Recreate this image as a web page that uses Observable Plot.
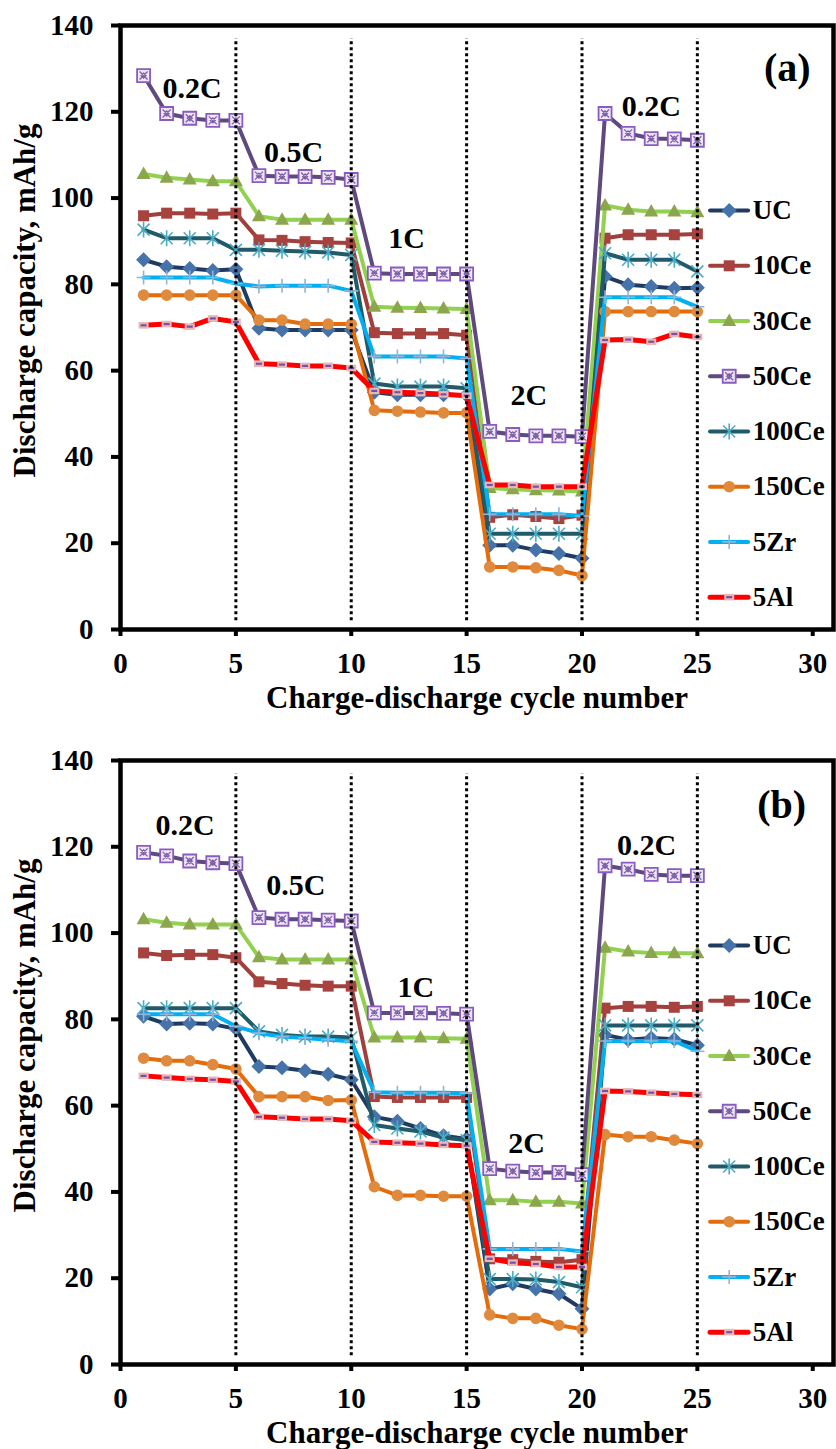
<!DOCTYPE html>
<html><head><meta charset="utf-8">
<script src="https://cdn.jsdelivr.net/npm/d3@7"></script>
<script src="https://cdn.jsdelivr.net/npm/@observablehq/plot@0.6"></script>
<style>
body{margin:0;background:#fff;}
#chart svg{display:block;}
</style></head><body><div id="chart"></div>
<script>
// ---------- data ----------
const cycles = [1,2,3,4,5,6,7,8,9,10,11,12,13,14,15,16,17,18,19,20,21,22,23,24,25];
const seriesNames = ["UC","10Ce","30Ce","50Ce","100Ce","150Ce","5Zr","5Al"];

// panel (a)
const ucA    = [85.7,84.1,83.7,83.2,83.5,69.8,69.4,69.4,69.4,69.4,55.0,54.4,54.4,54.4,54.3,19.5,19.5,18.4,17.6,16.5,81.8,79.9,79.5,79.1,79.2];
const ce10A  = [95.9,96.5,96.5,96.3,96.5,90.3,90.2,89.9,89.7,89.6,68.8,68.6,68.6,68.6,68.2,26.0,26.6,26.2,25.7,26.5,90.7,91.5,91.5,91.5,91.7];
const ce30A  = [105.6,104.7,104.3,103.9,103.9,95.8,95.0,95.0,95.0,95.0,74.8,74.6,74.5,74.4,74.3,32.8,32.5,32.3,32.2,32.0,98.3,97.3,96.9,96.9,96.7];
const ce50A  = [128.4,119.6,118.5,118.0,118.0,105.2,105.0,105.0,104.8,104.3,82.6,82.4,82.4,82.4,82.4,45.9,45.2,44.9,44.9,44.7,119.6,115.0,113.8,113.7,113.4];
const ce100A = [92.7,90.7,90.7,90.7,88.0,88.0,87.8,87.6,87.4,86.8,57.0,56.3,56.3,56.3,55.9,22.2,22.2,22.2,22.2,22.2,87.2,85.7,85.7,85.7,83.0];
const ce150A = [77.5,77.5,77.5,77.5,77.5,71.7,71.7,70.8,70.8,70.8,50.8,50.6,50.4,50.2,50.2,14.5,14.5,14.3,13.7,12.5,73.7,73.7,73.7,73.7,73.7];
const zr5A   = [81.6,81.6,81.6,81.6,80.2,79.5,79.7,79.7,79.7,78.5,63.3,63.3,63.3,63.3,62.8,26.7,26.7,26.7,26.7,26.3,77.0,77.0,77.0,77.0,74.8];
const al5A   = [70.5,70.8,70.2,72.1,71.3,61.6,61.4,61.1,61.1,60.6,55.3,55.0,54.8,54.5,54.2,33.5,33.5,33.1,33.1,33.1,67.1,67.2,66.7,68.5,67.8];

// panel (b)
const ucB    = [80.7,78.9,79.1,78.9,77.8,69.1,68.8,68.1,67.3,66.0,57.4,56.4,54.7,53.0,52.3,17.5,18.7,17.5,16.4,12.9,76.4,75.3,75.7,75.4,74.0];
const ce10B  = [95.4,94.8,95.0,95.0,94.3,88.7,88.3,87.9,87.7,87.7,62.1,61.9,61.9,61.9,61.9,24.5,24.3,23.9,23.7,24.3,82.6,83.0,83.0,82.8,83.0];
const ce30B  = [103.2,102.4,102.0,102.0,102.0,94.4,93.9,93.9,93.9,93.9,75.8,75.8,75.8,75.6,75.5,38.1,38.1,37.7,37.7,37.3,96.6,95.7,95.4,95.3,95.3];
const ce50B  = [118.7,117.9,116.7,116.3,116.1,103.6,103.2,103.2,103.0,102.8,81.5,81.5,81.5,81.4,81.2,45.4,44.8,44.5,44.5,44.0,115.6,114.8,113.6,113.3,113.3];
const ce100B = [82.6,82.6,82.6,82.6,82.6,77.2,76.4,76.0,76.0,75.8,55.5,54.7,54.0,52.6,52.0,19.8,19.8,19.7,19.1,17.9,78.6,78.6,78.6,78.6,78.6];
const ce150B = [71.0,70.4,70.4,69.5,68.5,62.1,62.1,62.1,61.2,61.3,41.2,39.2,39.2,39.0,39.0,11.5,10.7,10.7,9.1,8.2,53.3,52.8,52.8,52.0,51.2];
const zr5B   = [81.2,81.2,81.2,81.2,78.4,76.8,76.0,75.7,75.3,74.9,63.1,63.0,63.0,63.0,62.9,26.8,26.8,26.8,26.8,26.2,75.0,75.0,75.0,75.0,72.6];
const al5B   = [66.9,66.5,66.2,66.0,65.6,57.4,57.2,56.9,56.9,56.5,51.6,51.4,51.2,50.9,50.7,24.5,23.6,23.3,22.6,22.6,63.4,63.3,63.0,62.7,62.5];

// rate annotations
const rateLabels = ["0.2C","0.5C","1C","2C","0.2C"];
const rateXA = [3.1, 7.5, 12.4, 17.7, 23.0];
const rateYA = [125.4, 110.6, 90.6, 54.2, 121.2];
const rateXB = [2.8, 7.6, 12.8, 17.6, 22.8];
const rateYB = [124.9, 111.0, 87.4, 51.2, 120.3];

const boundaries = [5, 10, 15, 20, 25];
const xTicks = [0, 5, 10, 15, 20, 25, 30];
const yTicks = [0, 20, 40, 60, 80, 100, 120, 140];
const xLabel = "Charge-discharge cycle number";
const yLabel = "Discharge capacity, mAh/g";

// ---------- marker symbols ----------
const S = f => ({draw(c){ f(c); }});
const diamond = S(c=>{c.moveTo(0,-7.5);c.lineTo(7.5,0);c.lineTo(0,7.5);c.lineTo(-7.5,0);c.closePath();});
const square  = S(c=>{c.rect(-5.5,-5.5,11,11);});
const triangle= S(c=>{c.moveTo(0,-7.5);c.lineTo(7,5);c.lineTo(-7,5);c.closePath();});
const bigSq   = S(c=>{c.rect(-6.5,-6.5,13,13);});
const xmark   = S(c=>{c.moveTo(-4,-4);c.lineTo(4,4);c.moveTo(4,-4);c.lineTo(-4,4);c.moveTo(0,-2.5);c.lineTo(2.5,0);c.lineTo(0,2.5);c.lineTo(-2.5,0);c.closePath();});
const star    = S(c=>{c.moveTo(-6,-6);c.lineTo(6,6);c.moveTo(6,-6);c.lineTo(-6,6);c.moveTo(0,-8);c.lineTo(0,8);});
const circle  = S(c=>{c.moveTo(5.8,0);c.arc(0,0,5.8,0,2*Math.PI);});
const plus    = S(c=>{c.moveTo(-7,0);c.lineTo(7,0);c.moveTo(0,-7);c.lineTo(0,7);});
const alRect  = S(c=>{c.rect(-5,-3.3,10,6.6);});
const alDash  = S(c=>{c.rect(-3,-1.1,6,2.2);});

const styles = {
  "UC":    {line:"#1F3B62", w:4, marks:[{symbol:diamond, fill:"#4573AA"}]},
  "10Ce":  {line:"#A03F3C", w:4, marks:[{symbol:square, fill:"#A8423F"}]},
  "30Ce":  {line:"#92D050", w:4, marks:[{symbol:triangle, fill:"#8BA64C"}]},
  "50Ce":  {line:"#5F4A7E", w:4, marks:[{symbol:bigSq, fill:"#EEE8F6", stroke:"#8A5CC2", sw:1.8},{symbol:xmark, fill:"none", stroke:"#7E5FA8", sw:1.3}]},
  "100Ce": {line:"#215A68", w:4, marks:[{symbol:star, fill:"none", stroke:"#4BACC6", sw:1.6}]},
  "150Ce": {line:"#E46C0A", w:4, marks:[{symbol:circle, fill:"#E08A3E"}]},
  "5Zr":   {line:"#00B0F0", w:4, marks:[{symbol:plus, fill:"none", stroke:"#95B3D7", sw:1.6}]},
  "5Al":   {line:"#FF0000", w:5, marks:[{symbol:alRect, fill:"#E6B9B8"},{symbol:alDash, fill:"#7B4FA6"}]}
};

function rows(arr){ return cycles.map((c,i)=>({x:c, y:arr[i]})); }

function seriesMarks(data, s){
  const st = styles[s];
  const out = [Plot.line(data, {x:"x", y:"y", stroke:st.line, strokeWidth:st.w, strokeLinejoin:"round", strokeLinecap:"round"})];
  for (const m of st.marks) out.push(Plot.dot(data, {x:"x", y:"y", symbol:m.symbol, r:5, fill:m.fill, stroke:m.stroke || "none", strokeWidth:m.sw || 1}));
  return out;
}

function makePanel(seriesArrays, rateX, rateY, letter, letterX, letterY){
  const marks = [];
  seriesNames.forEach((s,i)=>{ marks.push(...seriesMarks(rows(seriesArrays[i]), s)); });
  // legend (inside plot area, in data coordinates)
  seriesNames.forEach((s,i)=>{
    const ly = 97.1 - i*12.8;
    const pts = [{x:25.55,y:ly},{x:27.2,y:ly}];
    const st = styles[s];
    marks.push(Plot.line(pts, {x:"x", y:"y", stroke:st.line, strokeWidth:st.w, strokeLinecap:"round"}));
    for (const m of st.marks) marks.push(Plot.dot([{x:26.38,y:ly}], {x:"x", y:"y", symbol:m.symbol, r:5, fill:m.fill, stroke:m.stroke || "none", strokeWidth:m.sw || 1}));
    marks.push(Plot.text([s], {x:27.4, y:ly, text:d=>d, textAnchor:"start", fontSize:27, fontWeight:"bold"}));
  });
  marks.push(Plot.ruleX(boundaries, {y1:2, y2:137, stroke:"black", strokeWidth:3, strokeDasharray:"3,3"}));
  marks.push(Plot.text(rateLabels.map((t,i)=>({t, x:rateX[i], y:rateY[i]})), {x:"x", y:"y", text:"t", fontSize:30, fontWeight:"bold"}));
  marks.push(Plot.text([letter], {x:letterX, y:letterY, text:d=>d, fontSize:40, fontWeight:"bold"}));
  marks.push(Plot.frame({stroke:"black", strokeWidth:4.5}));
  marks.push(Plot.axisX({ticks:xTicks, tickSize:7, tickPadding:16, strokeWidth:4, label:null, fontSize:29, fontWeight:"bold"}));
  marks.push(Plot.axisY({ticks:yTicks, tickSize:9, tickPadding:18, strokeWidth:4, label:null, fontSize:29, fontWeight:"bold"}));
  marks.push(Plot.text([xLabel], {frameAnchor:"bottom", dy:69, lineAnchor:"middle", textAnchor:"middle", text:d=>d, fontSize:31, fontWeight:"bold"}));
  marks.push(Plot.text([yLabel], {frameAnchor:"left", dx:-95, dy:-27, rotate:-90, textAnchor:"middle", lineAnchor:"middle", text:d=>d, fontSize:31, fontWeight:"bold"}));
  return Plot.plot({
    width:836, height:735,
    marginLeft:120, marginRight:3, marginTop:25, marginBottom:106,
    x:{domain:[0,30.9]},
    y:{domain:[0,140]},
    style:{fontFamily:"'Liberation Serif','Times New Roman',serif", fontWeight:"bold", fontSize:"29px", color:"black", background:"white"},
    marks
  });
}

const chart = document.getElementById("chart");
chart.appendChild(makePanel([ucA,ce10A,ce30A,ce50A,ce100A,ce150A,zr5A,al5A], rateXA, rateYA, "(a)", 28.9, 130.0));
chart.appendChild(makePanel([ucB,ce10B,ce30B,ce50B,ce100B,ce150B,zr5B,al5B], rateXB, rateYB, "(b)", 28.65, 129.6));
</script></body></html>
